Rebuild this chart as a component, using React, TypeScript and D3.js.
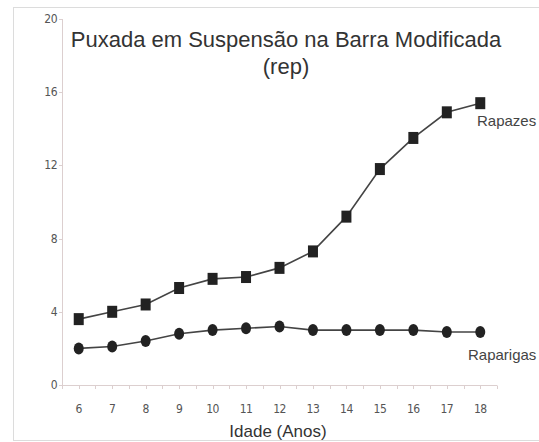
import React, { useEffect, useRef } from "react";
import * as d3 from "d3";

const ages = [6, 7, 8, 9, 10, 11, 12, 13, 14, 15, 16, 17, 18];
const rapazes = [3.6, 4.0, 4.4, 5.3, 5.8, 5.9, 6.4, 7.3, 9.2, 11.8, 13.5, 14.9, 15.4];
const raparigas = [2.0, 2.1, 2.4, 2.8, 3.0, 3.1, 3.2, 3.0, 3.0, 3.0, 3.0, 2.9, 2.9];
const yTicks = [0, 4, 8, 12, 16, 20];

const svgWidth = 539;
const svgHeight = 442;

export default function App() {
  const svgRef = useRef<SVGSVGElement>(null);

  useEffect(() => {
    const svg = d3.select(svgRef.current);
    svg.selectAll("*").remove();

    const x = d3.scaleLinear().domain([5.5, 18.5]).range([62, 497]);
    const y = d3.scaleLinear().domain([0, 20]).range([385, 19]);

    // frame
    svg
      .append("rect")
      .attr("x", 13.5)
      .attr("y", 7.5)
      .attr("width", 530)
      .attr("height", 433)
      .attr("fill", "white")
      .attr("stroke", "#dcdcdc");

    const axisColor = "#dccfcf";
    const font = "'Liberation Sans Narrow', 'DejaVu Sans Condensed', sans-serif";
    const sans = "'Liberation Sans', Arial, sans-serif";

    // y axis
    svg
      .append("line")
      .attr("x1", 62.5)
      .attr("x2", 62.5)
      .attr("y1", y(20))
      .attr("y2", y(0))
      .attr("stroke", axisColor);
    svg
      .selectAll(".ytick")
      .data(yTicks)
      .enter()
      .append("line")
      .attr("x1", 59)
      .attr("x2", 62.5)
      .attr("y1", (d) => Math.round(y(d)) + 0.5)
      .attr("y2", (d) => Math.round(y(d)) + 0.5)
      .attr("stroke", axisColor);
    svg
      .selectAll(".ylab")
      .data(yTicks)
      .enter()
      .append("text")
      .attr("x", 57)
      .attr("y", (d) => y(d) + 4)
      .attr("text-anchor", "end")
      .attr("font-family", font)
      .attr("font-size", 12)
      .attr("fill", "#555")
      .attr("letter-spacing", -0.5)
      .text((d) => d);

    // x axis
    svg
      .append("line")
      .attr("x1", 62)
      .attr("x2", 497)
      .attr("y1", 385.5)
      .attr("y2", 385.5)
      .attr("stroke", axisColor);
    const xTicks = d3.range(5.5, 18.51, 0.5);
    svg
      .selectAll(".xtick")
      .data(xTicks)
      .enter()
      .append("line")
      .attr("x1", (d) => Math.round(x(d)) + 0.5)
      .attr("x2", (d) => Math.round(x(d)) + 0.5)
      .attr("y1", 385.5)
      .attr("y2", 389)
      .attr("stroke", axisColor);
    svg
      .selectAll(".xlab")
      .data(ages)
      .enter()
      .append("text")
      .attr("x", (d) => x(d))
      .attr("y", 413)
      .attr("text-anchor", "middle")
      .attr("font-family", font)
      .attr("font-size", 12)
      .attr("fill", "#555")
      .attr("letter-spacing", -0.5)
      .text((d) => d);

    svg
      .append("text")
      .attr("x", 278)
      .attr("y", 437)
      .attr("text-anchor", "middle")
      .attr("font-family", sans)
      .attr("font-size", 17)
      .attr("fill", "#333")
      .text("Idade (Anos)");

    // title
    const title = svg
      .append("text")
      .attr("text-anchor", "middle")
      .attr("font-family", sans)
      .attr("font-size", 22)
      .attr("fill", "#333");
    title.append("tspan").attr("x", 286).attr("y", 47).text("Puxada em Suspensão na Barra Modificada");
    title.append("tspan").attr("x", 286).attr("y", 74).text("(rep)");

    const line = d3
      .line<number>()
      .x((d, i) => x(ages[i]))
      .y((d) => y(d));

    const lineColor = "#444";
    const markColor = "#222";

    svg
      .append("path")
      .datum(rapazes)
      .attr("d", line)
      .attr("fill", "none")
      .attr("stroke", lineColor)
      .attr("stroke-width", 1.6);
    svg
      .append("path")
      .datum(raparigas)
      .attr("d", line)
      .attr("fill", "none")
      .attr("stroke", lineColor)
      .attr("stroke-width", 1.6);

    svg
      .selectAll(".sq")
      .data(rapazes)
      .enter()
      .append("rect")
      .attr("x", (d, i) => x(ages[i]) - 5)
      .attr("y", (d) => y(d) - 6)
      .attr("width", 10)
      .attr("height", 12)
      .attr("fill", markColor);

    svg
      .selectAll(".circ")
      .data(raparigas)
      .enter()
      .append("ellipse")
      .attr("cx", (d, i) => x(ages[i]))
      .attr("cy", (d) => y(d))
      .attr("rx", 5)
      .attr("ry", 6)
      .attr("fill", markColor);

    svg
      .append("text")
      .attr("x", 477)
      .attr("y", 126)
      .attr("font-family", sans)
      .attr("font-size", 15)
      .attr("fill", "#444")
      .text("Rapazes");
    svg
      .append("text")
      .attr("x", 468)
      .attr("y", 360)
      .attr("font-family", sans)
      .attr("font-size", 15)
      .attr("fill", "#444")
      .text("Raparigas");
  }, []);

  return (
    <svg
      ref={svgRef}
      width={svgWidth}
      height={svgHeight}
      style={{ position: "absolute", left: 0, top: 0, background: "white" }}
    ></svg>
  );
}
